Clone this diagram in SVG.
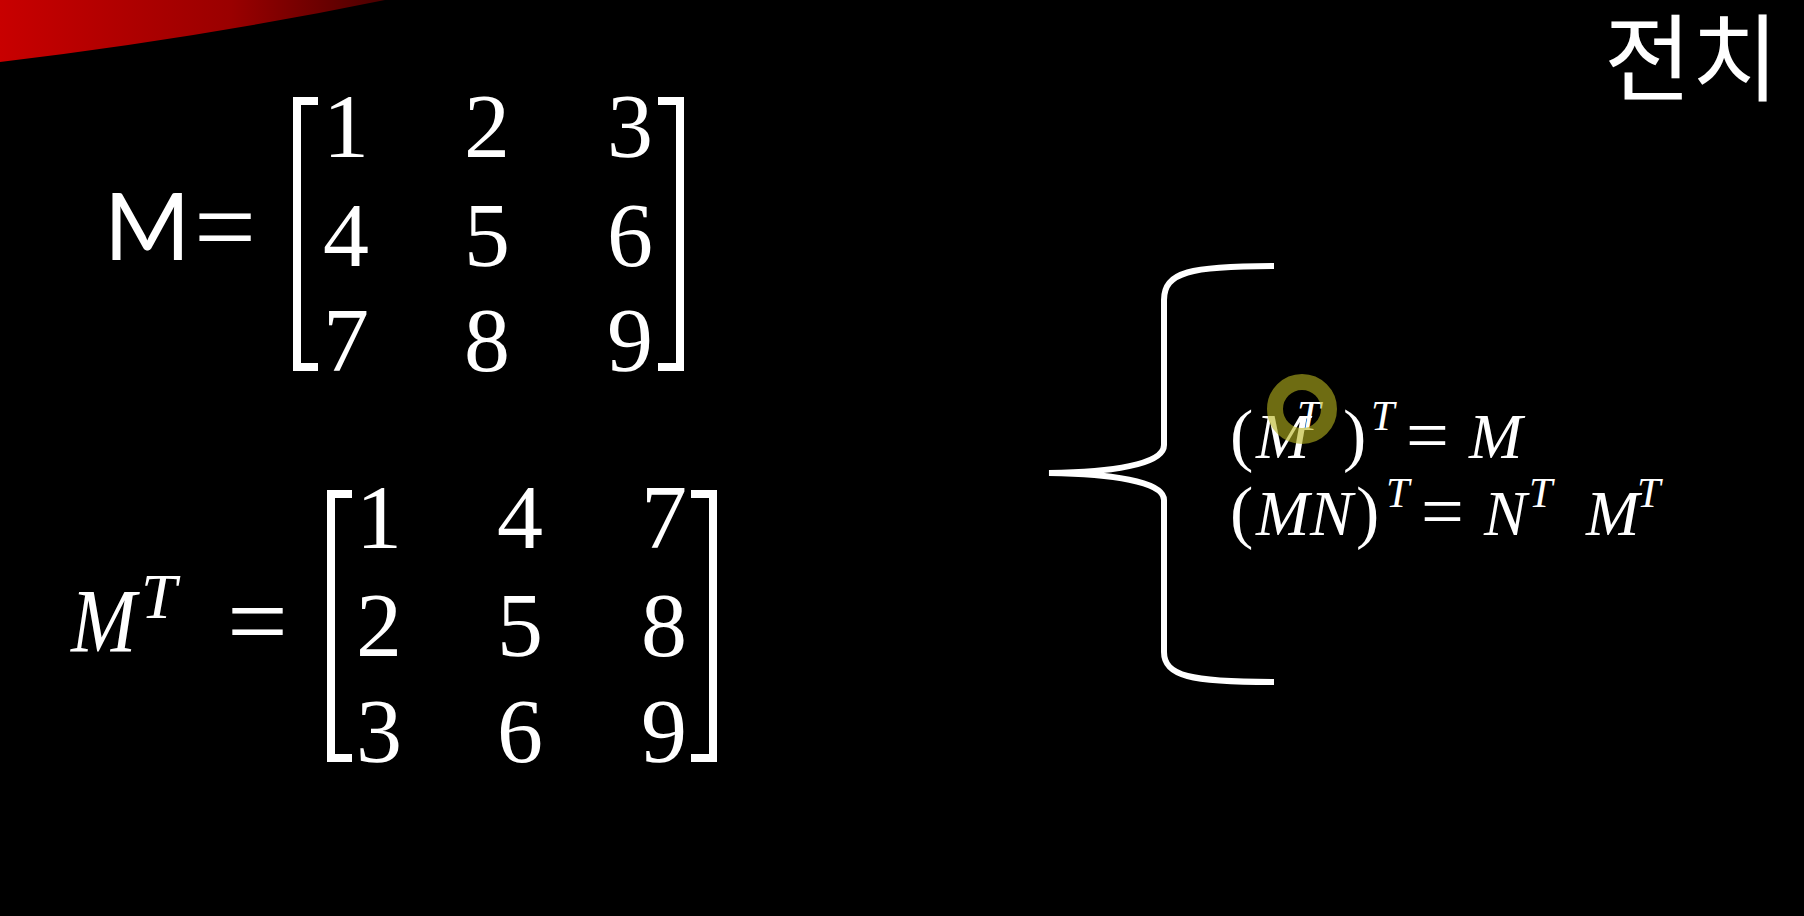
<svg xmlns="http://www.w3.org/2000/svg" width="1804" height="916" viewBox="0 0 1804 916">
<defs>
<linearGradient id="redg" x1="0" y1="0" x2="1" y2="0">
<stop offset="0" stop-color="#c80000"/>
<stop offset="0.6" stop-color="#9a0000"/>
<stop offset="1" stop-color="#4a0000"/>
</linearGradient>
<style>
.dig{font-family:"Liberation Serif",serif;font-size:92px;fill:#fff;text-anchor:middle}
.brk{fill:none;stroke:#fff;stroke-width:8;stroke-linejoin:miter}
.it{font-family:"Liberation Serif",serif;font-style:italic;fill:#fff}
.up{font-style:normal}
.eq{font-family:"Liberation Serif",serif;font-style:italic;font-size:64px;fill:#fff}
.sup{font-size:42px}
.par{font-style:normal;font-size:70px}
.eqs{font-style:normal;font-size:76px}
</style>
</defs>
<rect width="1804" height="916" fill="#000"/>
<g id="swoosh">
<path d="M0,0 L385,0 Q200,38 0,62 Z" fill="url(#redg)"/>
</g>
<g id="title">
<text transform="translate(1604,94)" font-family="Noto Sans CJK KR, sans-serif" font-size="95" fill="#fff">전치</text>
</g>
<g id="matrix-M">
<text font-family="Lato, sans-serif" font-weight="400" font-size="93" fill="#fff" x="104" y="260">M</text>
<text class="it up" x="194" y="264" font-size="110">=</text>
<path class="brk" d="M318,101 H297 V367 H318"/>
<path class="brk" d="M658,101 H680 V367 H658"/>
<text class="dig" x="346" y="157">1</text>
<text class="dig" x="487" y="157">2</text>
<text class="dig" x="630" y="157">3</text>
<text class="dig" x="346" y="266">4</text>
<text class="dig" x="487" y="266">5</text>
<text class="dig" x="630" y="266">6</text>
<text class="dig" x="346" y="371">7</text>
<text class="dig" x="487" y="371">8</text>
<text class="dig" x="630" y="371">9</text>
</g>
<g id="matrix-MT">
<text class="it" transform="translate(71,652) scale(0.87,1)" font-size="90">M</text>
<text class="it" x="141" y="618" font-size="64">T</text>
<text class="it up" x="227" y="657" font-size="108">=</text>
<path class="brk" d="M352,494 H331 V758 H352"/>
<path class="brk" d="M691,494 H713 V758 H691"/>
<text class="dig" x="379" y="548">1</text>
<text class="dig" x="520" y="548">4</text>
<text class="dig" x="664" y="548">7</text>
<text class="dig" x="379" y="656">2</text>
<text class="dig" x="520" y="656">5</text>
<text class="dig" x="664" y="656">8</text>
<text class="dig" x="379" y="762">3</text>
<text class="dig" x="520" y="762">6</text>
<text class="dig" x="664" y="762">9</text>
</g>
<g id="connectors">
<path d="M1274,266 C1190,266 1164,272 1164,300 L1164,445 C1164,465 1110,472 1049,473 C1110,474 1164,481 1164,500 L1164,652 C1164,676 1190,682 1274,682" fill="none" stroke="#fff" stroke-width="6"/>
</g>
<g id="properties">
<text class="eq" y="458"><tspan class="par" x="1230">(</tspan><tspan x="1256">M</tspan><tspan class="sup" x="1297" y="430">T</tspan><tspan class="par" x="1343" y="458">)</tspan><tspan class="sup" x="1371" y="430">T</tspan><tspan class="eqs" x="1406" y="461">=</tspan><tspan x="1469" y="458">M</tspan></text>
<text class="eq" y="535"><tspan class="par" x="1230">(</tspan><tspan x="1256">M</tspan><tspan x="1310">N</tspan><tspan class="par" x="1356">)</tspan><tspan class="sup" x="1386" y="507">T</tspan><tspan class="eqs" x="1421" y="537">=</tspan><tspan x="1484" y="535">N</tspan><tspan class="sup" x="1529" y="507">T</tspan><tspan x="1586" y="535">M</tspan><tspan class="sup" x="1637" y="507">T</tspan></text>
</g>
<g id="cursor">
<circle cx="1302" cy="409" r="27" fill="none" stroke="#b8b41e" stroke-width="16" opacity="0.6"/>
</g>
</svg>
